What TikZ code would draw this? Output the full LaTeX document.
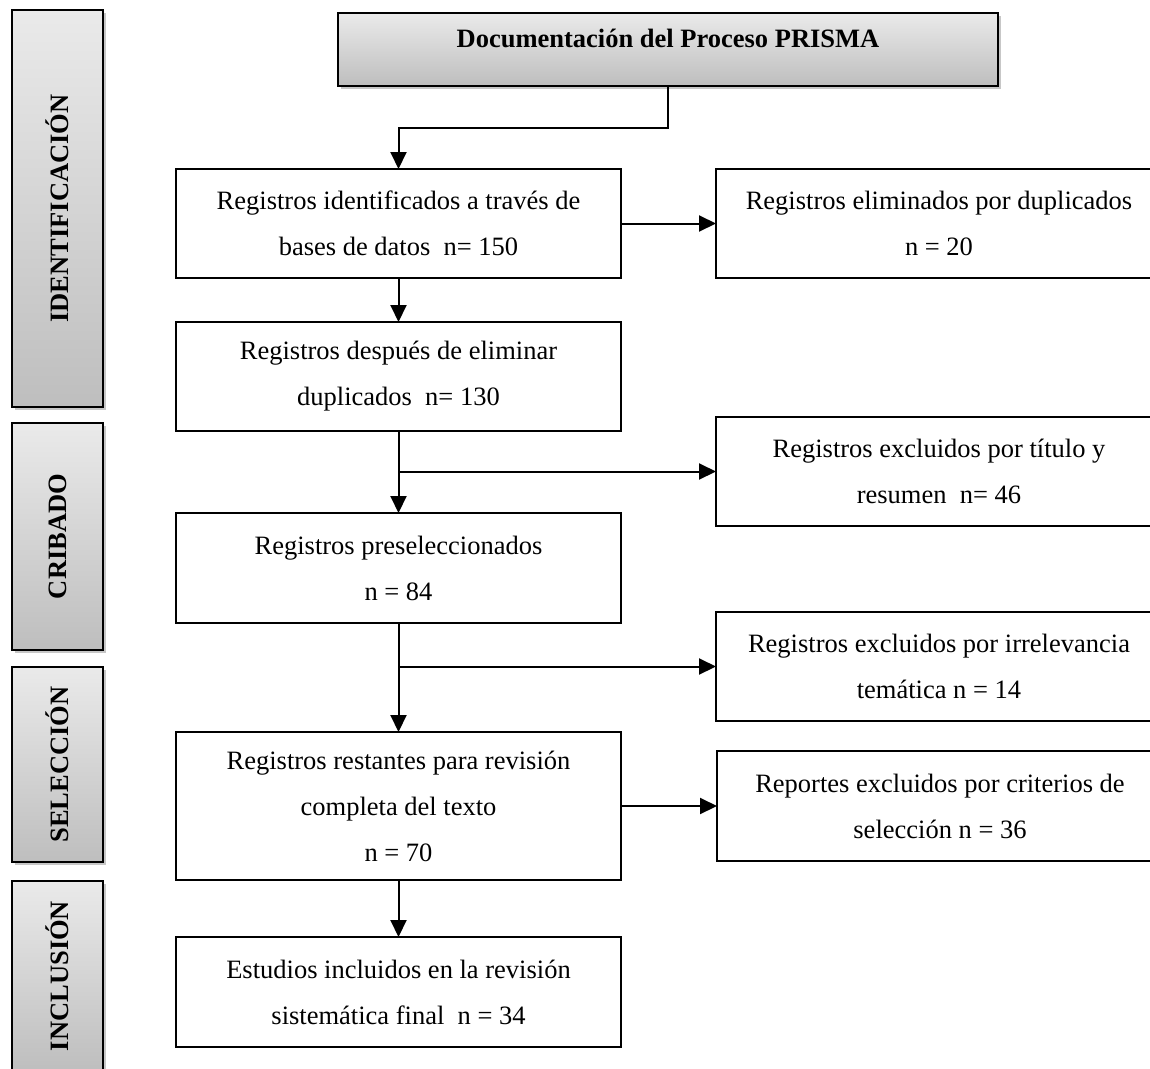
\documentclass[tikz,border=0pt]{standalone}
\usepackage{fontspec}
\setmainfont{Liberation Serif}
\usetikzlibrary{arrows.meta,shadows}
\definecolor{gtop}{RGB}{234,234,234}
\definecolor{gbot}{RGB}{190,190,190}
\begin{document}
\begin{tikzpicture}[x=1pt,y=-1pt,
  txt/.style={font=\fontsize{26.5}{46}\selectfont, align=center},
  box/.style={txt, draw=black, line width=1.9pt, fill=white, outer sep=0pt, inner sep=0pt},
  lbox/.style={box, minimum width=445pt},
  rbox/.style={box, minimum width=446pt},
  gbox/.style={draw=black, line width=2.6pt, top color=gtop, bottom color=gbot, outer sep=0pt, inner sep=0pt,
    font=\fontsize{26.5}{32}\selectfont\bfseries, align=center,
    drop shadow={shadow xshift=2.5pt, shadow yshift=-3pt, fill=black, opacity=0.22}},
  bar/.style={gbox, minimum width=91pt},
  arr/.style={line width=2pt, -{Triangle[length=17pt,width=16pt]}}
]
\useasboundingbox (0,0) rectangle (1150,1068);
\clip (0,0) rectangle (1150,1068);

% side bars
\node[bar, minimum height=397pt] (sb1) at (57.5,208.5) {\rotatebox{90}{IDENTIFICACIÓN}};
\node[bar, minimum height=227pt] (sb2) at (57.5,536.5) {\rotatebox{90}{CRIBADO}};
\node[bar, minimum height=195pt] (sb3) at (57.5,764.5) {\rotatebox{90}{SELECCIÓN}};
\node[bar, minimum height=190pt] (sb4) at (57.5,976) {\rotatebox{90}{INCLUSIÓN}};

% title
\node[gbox, minimum width=660pt, minimum height=73pt, text height=34pt, text depth=39pt] (title) at (668,49.5) {Documentación del Proceso PRISMA};

% left column
\node[lbox, minimum height=109pt] (b1) at (398.5,223.5) {Registros identificados a través de\\bases de datos\ \ n= 150};
\node[lbox, minimum height=109pt] (b2) at (398.5,376.5) {Registros después de eliminar\\duplicados\ \ n= 130};
\node[lbox, minimum height=110pt] (b3) at (398.5,568) {Registros preseleccionados\\n = 84};
\node[lbox, minimum height=148pt] (b4) at (398.5,806) {Registros restantes para revisión\\completa del texto\\n = 70};
\node[lbox, minimum height=110pt] (b5) at (398.5,992) {Estudios incluidos en la revisión\\sistemática final\ \ n = 34};

% right column
\node[rbox, minimum height=109pt] (r1) at (939,223.5) {Registros eliminados por duplicados\\n = 20};
\node[rbox, minimum height=109pt] (r2) at (939,471.5) {Registros excluidos por título y\\resumen\ \ n= 46};
\node[rbox, minimum height=109pt] (r3) at (939,666.5) {Registros excluidos por irrelevancia\\temática n = 14};
\node[rbox, minimum height=110pt] (r4) at (940,806) {Reportes excluidos por criterios de\\selección n = 36};

% connectors
\coordinate (elb) at (668,128);
\draw[arr] (title.south) -- (elb) -| (b1.north);
\draw[arr] (b1.east) -- (r1.west);
\draw[arr] (b1.south) -- (b2.north);
\draw[arr] (b2.south) -- (b3.north);
\coordinate (j1) at (b2.south |- r2.west);
\draw[arr] (j1) -- (r2.west);
\draw[arr] (b3.south) -- (b4.north);
\coordinate (j2) at (b3.south |- r3.west);
\draw[arr] (j2) -- (r3.west);
\draw[arr] (b4.east) -- (r4.west);
\draw[arr] (b4.south) -- (b5.north);
\end{tikzpicture}
\end{document}
